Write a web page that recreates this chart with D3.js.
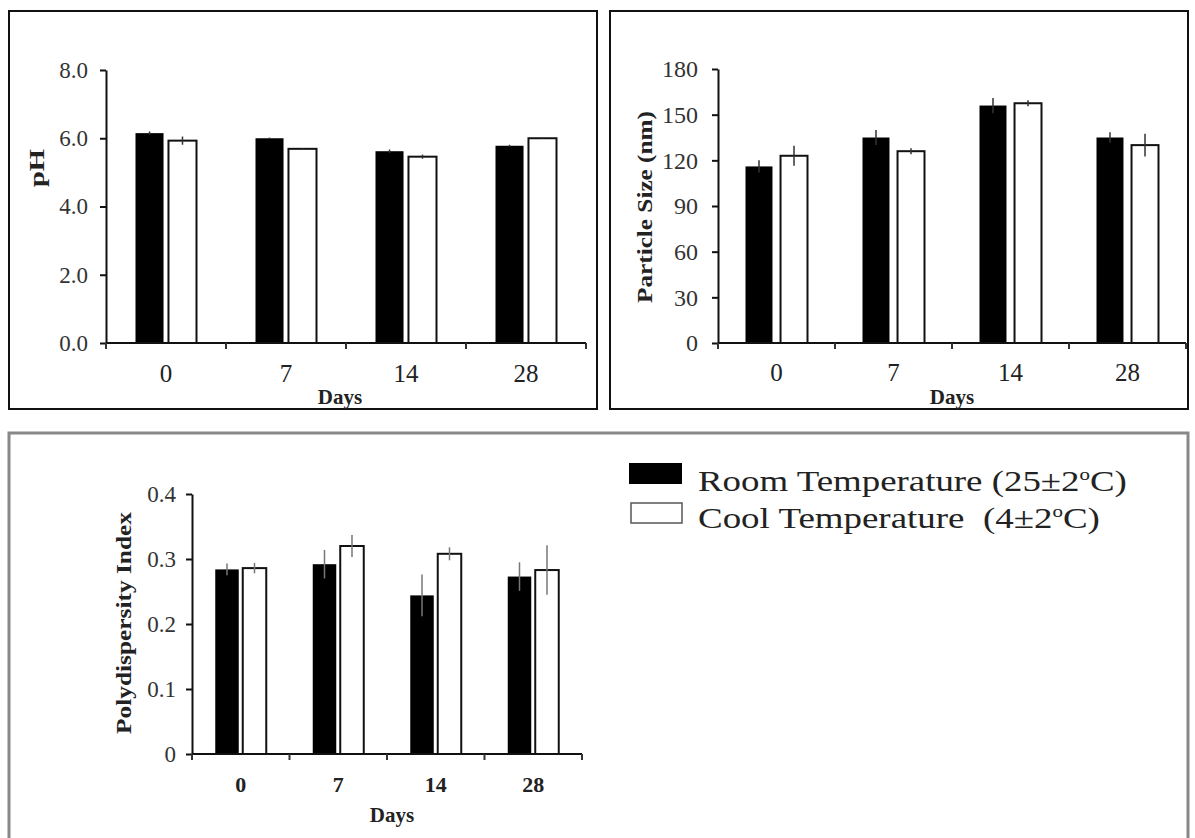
<!DOCTYPE html>
<html>
<head>
<meta charset="utf-8">
<script src="https://cdn.jsdelivr.net/npm/d3@7"></script>
<style>
  body { margin: 0; background: #fff; }
  svg { display: block; }
  svg text { font-family: "Liberation Serif", "Times New Roman", Times, serif; }
</style>
</head>
<body>
<div id="chart"></div>
<script>
// storage days
const days = ["0", "7", "14", "28"];
const series = ["room", "cool"];

// pH
const phRoom = [6.15, 6.0, 5.62, 5.78];
const phRoomErr = [0.05, 0.02, 0.05, 0.03];
const phCool = [5.93, 5.69, 5.46, 6.0];
const phCoolErr = [0.12, 0.02, 0.06, 0.02];
const phTicks = [0, 2, 4, 6, 8];

// particle size (nm)
const sizeRoom = [116, 135, 156, 135];
const sizeRoomErr = [4, 5, 5, 3.5];
const sizeCool = [123, 126, 157.5, 130];
const sizeCoolErr = [6.5, 2, 2, 7.5];
const sizeTicks = [0, 30, 60, 90, 120, 150, 180];

// polydispersity index
const pdiRoom = [0.284, 0.292, 0.244, 0.273];
const pdiRoomErr = [0.009, 0.022, 0.032, 0.022];
const pdiCool = [0.286, 0.320, 0.308, 0.283];
const pdiCoolErr = [0.008, 0.017, 0.010, 0.038];
const pdiTicks = [0, 0.1, 0.2, 0.3, 0.4];

const legendLabels = ["Room Temperature (25\u00b12", "Cool Temperature  (4\u00b12"];

const W = 1195, H = 838;
const serif = '"Liberation Serif", "Times New Roman", Times, serif';

const svg = d3.select("#chart").append("svg")
    .attr("width", W)
    .attr("height", H);

svg.append("rect").attr("width", W).attr("height", H).attr("fill", "#fff");

// frames round the panels
svg.append("rect").attr("x", 9).attr("y", 11).attr("width", 588).attr("height", 398)
    .attr("fill", "none").attr("stroke", "#111").attr("stroke-width", 2);
svg.append("rect").attr("x", 610).attr("y", 11).attr("width", 578).attr("height", 398)
    .attr("fill", "none").attr("stroke", "#111").attr("stroke-width", 2);
svg.append("rect").attr("x", 9).attr("y", 433).attr("width", 1179).attr("height", 430)
    .attr("fill", "none").attr("stroke", "#888").attr("stroke-width", 3);

// one grouped bar panel
function drawPanel(p) {
    const g = svg.append("g");

    const x = d3.scaleBand().domain(days).range([p.x0, p.x1]).padding(0);
    const y = d3.scaleLinear().domain([0, p.max]).range([p.y0, p.y1]);
    const xs = d3.scaleBand().domain(series).range([-p.group / 2, p.group / 2]).paddingInner(p.inner);

    const rows = [];
    days.forEach(function (d, i) {
        rows.push({ day: d, s: "room", v: p.room[i], e: p.roomErr[i] });
        rows.push({ day: d, s: "cool", v: p.cool[i], e: p.coolErr[i] });
    });

    // y axis
    const ya = g.append("g")
        .attr("transform", "translate(" + p.x0 + ",0)")
        .call(d3.axisLeft(y).tickValues(p.ticks).tickFormat(p.fmt)
            .tickSize(6).tickSizeOuter(0).tickPadding(p.pad));
    ya.attr("font-family", null).attr("font-size", null);
    ya.select(".domain").attr("stroke", "#111").attr("stroke-width", 2);
    ya.selectAll(".tick line").attr("stroke", "#111").attr("stroke-width", 2);
    ya.selectAll(".tick text")
        .style("font-size", p.tickSize + "px")
        .attr("fill", "#333");

    // bars
    g.selectAll("rect.bar")
        .data(rows)
        .enter()
        .append("rect")
        .attr("class", "bar")
        .attr("x", d => x(d.day) + x.bandwidth() / 2 + xs(d.s))
        .attr("y", d => y(d.v))
        .attr("width", xs.bandwidth())
        .attr("height", d => y(0) - y(d.v))
        .attr("fill", d => d.s == "room" ? "#000" : "#fff")
        .attr("stroke", d => d.s == "room" ? "none" : "#111")
        .attr("stroke-width", 2);

    // error bars, only the vertical line
    g.selectAll("line.err")
        .data(rows)
        .enter()
        .append("line")
        .attr("class", "err")
        .attr("x1", d => x(d.day) + x.bandwidth() / 2 + xs(d.s) + xs.bandwidth() / 2)
        .attr("x2", d => x(d.day) + x.bandwidth() / 2 + xs(d.s) + xs.bandwidth() / 2)
        .attr("y1", d => y(d.v - d.e))
        .attr("y2", d => y(d.v + d.e))
        .attr("stroke", p.errColor)
        .attr("stroke-width", 1.5);

    // x axis: line, ticks between the days, labels at the centres
    g.append("line")
        .attr("x1", p.x0).attr("x2", p.x1)
        .attr("y1", y(0)).attr("y2", y(0))
        .attr("stroke", "#111").attr("stroke-width", 2);
    g.selectAll("line.sep")
        .data(days.concat(["end"]))
        .enter()
        .append("line")
        .attr("class", "sep")
        .attr("x1", d => d == "end" ? p.x1 : x(d))
        .attr("x2", d => d == "end" ? p.x1 : x(d))
        .attr("y1", y(0))
        .attr("y2", y(0) + 6)
        .attr("stroke", "#333").attr("stroke-width", 2);
    g.selectAll("text.day")
        .data(days)
        .enter()
        .append("text")
        .attr("class", "day")
        .attr("x", d => x(d) + x.bandwidth() / 2)
        .attr("y", p.dayY)
        .attr("text-anchor", "middle")
        .style("font-size", p.daySize + "px")
        .attr("font-weight", p.dayBold ? "bold" : "normal")
        .attr("fill", "#222")
        .text(d => d);

    g.append("text")
        .attr("x", p.titleX)
        .attr("y", p.titleY)
        .attr("text-anchor", "middle")
        .style("font-size", "21px")
        .attr("font-weight", "bold")
        .attr("fill", "#222")
        .text("Days");

    // rotated axis title, stretched along its baseline like the scan
    g.append("text")
        .attr("transform", "translate(" + p.labX + "," + p.labY + ") rotate(-90)")
        .attr("x", -p.labLen / 2)
        .attr("textLength", p.labLen)
        .attr("lengthAdjust", "spacingAndGlyphs")
        .style("font-size", p.labSize + "px")
        .attr("font-weight", "bold")
        .attr("fill", "#222")
        .text(p.label);
}

drawPanel({
    x0: 106, x1: 586, y0: 343, y1: 70, max: 8,
    room: phRoom, roomErr: phRoomErr, cool: phCool, coolErr: phCoolErr,
    ticks: phTicks, fmt: d3.format(".1f"), pad: 12, tickSize: 23,
    group: 61, inner: 0.15, errColor: "#333",
    dayY: 382, daySize: 25, dayBold: false,
    titleX: 340, titleY: 404,
    label: "pH", labX: 44, labY: 168, labSize: 22, labLen: 38
});

drawPanel({
    x0: 718, x1: 1186, y0: 343, y1: 69, max: 180,
    room: sizeRoom, roomErr: sizeRoomErr, cool: sizeCool, coolErr: sizeCoolErr,
    ticks: sizeTicks, fmt: d3.format("d"), pad: 14, tickSize: 24,
    group: 62, inner: 0.23, errColor: "#333",
    dayY: 381, daySize: 25, dayBold: false,
    titleX: 952, titleY: 404,
    label: "Particle Size (nm)", labX: 652, labY: 207, labSize: 20, labLen: 192
});

drawPanel({
    x0: 192, x1: 582, y0: 754, y1: 494, max: 0.4,
    room: pdiRoom, roomErr: pdiRoomErr, cool: pdiCool, coolErr: pdiCoolErr,
    ticks: pdiTicks, fmt: d => d == 0 ? "0" : d.toFixed(1), pad: 10, tickSize: 23,
    group: 51, inner: 0.145, errColor: "#777",
    dayY: 792, daySize: 22, dayBold: true,
    titleX: 392, titleY: 822,
    label: "Polydispersity Index", labX: 131, labY: 623, labSize: 20, labLen: 222
});

// legend
const legend = svg.append("g");
legend.selectAll("rect")
    .data(series)
    .enter()
    .append("rect")
    .attr("x", (d, i) => i == 0 ? 629 : 631)
    .attr("y", (d, i) => i == 0 ? 463 : 503)
    .attr("width", (d, i) => i == 0 ? 53 : 51)
    .attr("height", (d, i) => i == 0 ? 21 : 20)
    .attr("fill", d => d == "room" ? "#000" : "#fff")
    .attr("stroke", d => d == "room" ? "none" : "#555")
    .attr("stroke-width", 1.5);

const legendWidth = [429, 402];
const lt = legend.selectAll("text")
    .data(legendLabels)
    .enter()
    .append("text")
    .style("font-size", "30px")
    .attr("fill", "#222")
    .attr("xml:space", "preserve")
    .style("white-space", "pre");
lt.append("tspan").text(d => d);
lt.append("tspan").style("font-size", "17px").attr("dy", -11).text("o");
lt.append("tspan").attr("dy", 11).text("C)");
// the scan is a little wider than the font, stretch each line to it
lt.attr("transform", function (d, i) {
    const w = this.getComputedTextLength();
    return "translate(698," + (i == 0 ? 491 : 528) + ") scale(" + (legendWidth[i] / w) + ",1)";
});

svg.selectAll("text").style("font-family", serif);
</script>
</body>
</html>
